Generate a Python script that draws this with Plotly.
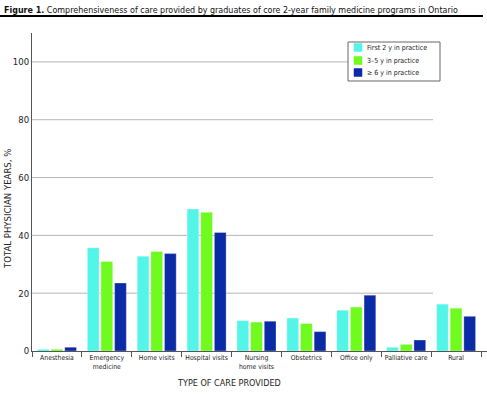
import plotly.graph_objects as go

categories = ["Anesthesia", "Emergency<br>medicine", "Home visits", "Hospital visits",
              "Nursing<br>home visits", "Obstetrics", "Office only", "Palliative care", "Rural"]
series_names = ["First 2 y in practice", "3–5 y in practice", "≥ 6 y in practice"]
first2 = [0.6, 35.7, 32.8, 49.1, 10.5, 11.4, 14.1, 1.3, 16.2]
y3to5 = [0.6, 31.0, 34.4, 48.0, 10.0, 9.5, 15.2, 2.3, 14.8]
y6plus = [1.3, 23.5, 33.7, 41.0, 10.3, 6.7, 19.3, 3.8, 12.0]
colors = ["#52f5e8", "#6ffb1e", "#0b2aa6"]
yticks = [0, 20, 40, 60, 80, 100]

FONT = "DejaVu Sans Condensed, Liberation Sans Narrow, Roboto, sans-serif"

fig = go.Figure()
for name, vals, c in zip(series_names, [first2, y3to5, y6plus], colors):
    fig.add_trace(go.Bar(x=categories, y=vals, name=name, marker_color=c,
                         marker_line_color="rgba(255,255,255,0.5)", marker_line_width=0.6,
                         showlegend=False))

W, H = 487, 401
L, R, T, B = 32, 0, 33, 50
pw = W - L - R
ph = H - T - B


def px(x):
    return (x - L) / pw


def py(y):
    return (H - B - y) / ph


shapes = []
for v in yticks[1:]:
    shapes.append(dict(type="line", xref="paper", yref="y", x0=0, x1=px(433),
                       y0=v, y1=v, line=dict(color="#b4b4b4", width=1), layer="below"))
# title underline
shapes.append(dict(type="line", xref="paper", yref="paper", x0=px(0), x1=px(483),
                   y0=py(16), y1=py(16), line=dict(color="#000", width=2)))
# legend box
shapes.append(dict(type="rect", xref="paper", yref="paper", x0=px(348), x1=px(440),
                   y0=py(42), y1=py(81), line=dict(color="#666", width=1), fillcolor="white",
                   layer="above"))

annotations = [
    dict(text="<b>Figure 1.</b> Comprehensiveness of care provided by graduates of core 2-year family medicine programs in Ontario",
         xref="paper", yref="paper", x=px(2), y=py(3), xanchor="left", yanchor="top",
         showarrow=False, font=dict(family=FONT, size=8.9, color="#111")),
    dict(text="TOTAL PHYSICIAN YEARS, %", textangle=-90, xref="paper", yref="paper",
         x=px(7), y=py(209), xanchor="center", yanchor="middle",
         showarrow=False, font=dict(family=FONT, size=9.5, color="#222")),
    dict(text="TYPE OF CARE PROVIDED", xref="paper", yref="paper",
         x=px(229), y=py(383), xanchor="center", yanchor="middle",
         showarrow=False, font=dict(family=FONT, size=9, color="#222")),
]

# legend entries (swatch + label)
leg_rows = [47.5, 60.5, 72.5]
for name, c, yy in zip(series_names, colors, leg_rows):
    shapes.append(dict(type="rect", xref="paper", yref="paper", x0=px(354), x1=px(362),
                       y0=py(yy - 4), y1=py(yy + 4), line=dict(color=c, width=0.5),
                       fillcolor=c, layer="above"))
    annotations.append(dict(text=name, xref="paper", yref="paper", x=px(365), y=py(yy),
                            xanchor="left", yanchor="middle", showarrow=False,
                            font=dict(family=FONT, size=7, color="#222")))

fig.update_layout(
    width=W, height=H, margin=dict(l=L, r=R, t=T, b=B, autoexpand=False),
    paper_bgcolor="white", plot_bgcolor="white",
    barmode="group", bargap=0.18, bargroupgap=0.14,
    font=dict(family=FONT, size=9, color="#222"),
    showlegend=False,
    xaxis=dict(range=[-0.5, 8.62], showgrid=False, showline=True, linecolor="#555", linewidth=1,
               ticks="outside", tickson="boundaries", ticklen=5, tickcolor="#555",
               tickangle=0, automargin=False,
               tickfont=dict(family=FONT, size=6.8, color="#222"), fixedrange=True),
    yaxis=dict(range=[0, 110], tickvals=yticks, showgrid=False, showline=True, linecolor="#555",
               linewidth=1, ticks="", zeroline=False, automargin=False,
               tickfont=dict(family=FONT, size=9.5, color="#222"), fixedrange=True),
    shapes=shapes, annotations=annotations,
)

fig.write_html("out.html", config={"displayModeBar": False},
               post_script="document.body.style.margin='0';document.body.style.padding='0';")
